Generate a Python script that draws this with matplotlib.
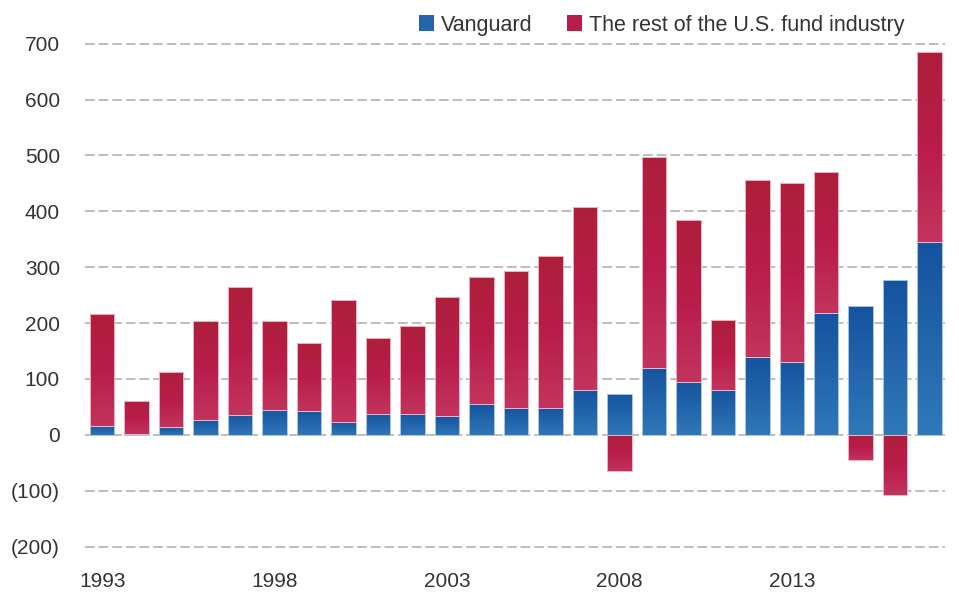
import matplotlib
matplotlib.use("Agg")
import matplotlib.pyplot as plt
import numpy as np
from matplotlib.colors import LinearSegmentedColormap
from matplotlib.patches import Patch

years = list(range(1993, 2018))
vanguard = [16, 1, 14, 26, 36, 45, 43, 23, 37, 38, 34, 55, 48, 48, 80,
            73, 120, 95, 81, 139, 130, 218, 230, 277, 345]
rest = [201, 59, 99, 178, 228, 159, 121, 219, 136, 156, 213, 227, 245, 272, 328,
        -65, 378, 289, 125, 317, 321, 252, -45, -108, 340]
y_ticks = [-200, -100, 0, 100, 200, 300, 400, 500, 600, 700]
y_labels = ["(200)", "(100)", "0", "100", "200", "300", "400", "500", "600", "700"]
x_label_years = [1993, 1998, 2003, 2008, 2013]
series_names = ["Vanguard", "The rest of the U.S. fund industry"]

plt.rcParams["font.family"] = ["Liberation Sans", "DejaVu Sans"]
TEXT = "#333333"
FS = 15

red_cmap = LinearSegmentedColormap.from_list("red", ["#C2355E", "#B91C4B", "#AE1F3A"])
blue_cmap = LinearSegmentedColormap.from_list("blue", ["#3079B9", "#2265AB", "#14539F"])


def gradient_fill(ax, bars, cmap, edge):
    """Replace flat bar fill with a vertical gradient (dark top, light bottom)."""
    grad = np.linspace(0, 1, 256).reshape(-1, 1)
    for bar in bars:
        x, y = bar.get_xy()
        w, h = bar.get_width(), bar.get_height()
        if h == 0:
            continue
        y0, y1 = sorted([y, y + h])
        # slightly oversized image, clipped back to the bar outline
        pad = 3
        im = ax.imshow(grad, extent=[x - 0.05, x + w + 0.05, y0 - pad, y1 + pad],
                       origin="lower", cmap=cmap, aspect="auto", zorder=2,
                       interpolation="bilinear")
        im.set_clip_path(bar)
        bar.set_facecolor("none")
        bar.set_edgecolor(edge)
        bar.set_linewidth(0.7)
        bar.set_zorder(3)


fig = plt.figure(figsize=(9.59, 5.92), dpi=100)
ax = fig.add_axes([0.0886, 0.074, 0.897, 0.855])

x = np.arange(len(years))
van = np.array(vanguard)
rst = np.array(rest)
bottoms = np.where(rst > 0, van, 0)

width = 0.71
b1 = ax.bar(x, van, width, color="#2265AB")
b2 = ax.bar(x, rst, width, bottom=bottoms, color="#B91C4B")
gradient_fill(ax, b1, blue_cmap, "#A9C4E4")
gradient_fill(ax, b2, red_cmap, "#EBB5C4")

ax.set_xlim(-0.5, 24.45)
ax.set_ylim(-203, 703)
ax.set_yticks(y_ticks)
ax.set_yticklabels(y_labels)
ax.set_xticks([years.index(yr) for yr in x_label_years])
ax.set_xticklabels([str(yr) for yr in x_label_years])
ax.tick_params(axis="both", length=0, labelsize=FS, colors=TEXT)
ax.tick_params(axis="y", pad=18)
ax.tick_params(axis="x", pad=17)
ax.grid(axis="y", color="#BDBDBD", linestyle=(0, (5, 2)), linewidth=1.4, zorder=1)
ax.set_axisbelow(True)
for s in ax.spines.values():
    s.set_visible(False)

handles = [Patch(facecolor="#2265AB"), Patch(facecolor="#B91C4B")]
fig.legend(handles, series_names, loc="upper right", bbox_to_anchor=(0.963, 1.008),
           ncol=2, frameon=False, fontsize=FS + 0.5, handlelength=0.72, handleheight=0.72,
           handletextpad=0.3, columnspacing=1.6, labelcolor=TEXT)

fig.savefig("out.png", dpi=100)
